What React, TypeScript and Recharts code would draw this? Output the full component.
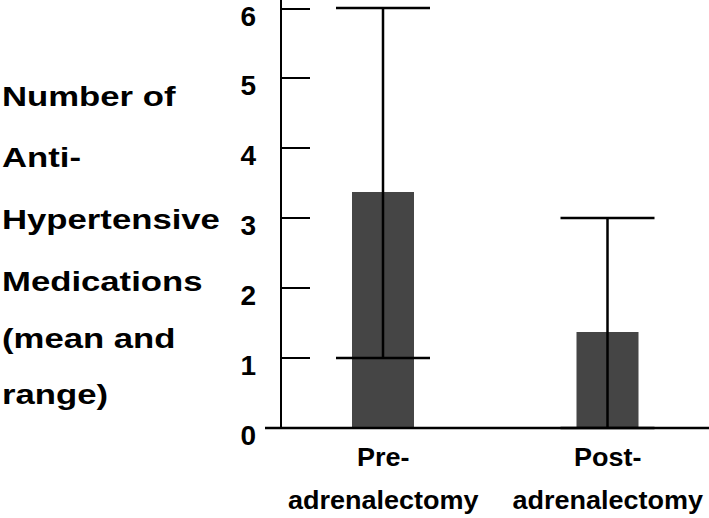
import React from 'react';
import { BarChart, Bar, XAxis, YAxis, ErrorBar } from 'recharts';

const GROUP_TOP: string[] = ['Pre-', 'Post-'];
const GROUP_BOTTOM: string[] = ['adrenalectomy', 'adrenalectomy'];
const MEANS: number[] = [3.37, 1.37];
const RANGE_MIN: number[] = [1, 0];
const RANGE_MAX: number[] = [6, 3];
const Y_TICKS: number[] = [0, 1, 2, 3, 4, 5, 6];
const Y_TITLE: string[] = ['Number of', 'Anti-', 'Hypertensive', 'Medications', '(mean and', 'range)'];

const FONT = '"Liberation Sans", Arial, sans-serif';

const data = GROUP_TOP.map((top, i) => ({
  name: `${top}${GROUP_BOTTOM[i]}`,
  top,
  bottom: GROUP_BOTTOM[i],
  mean: MEANS[i],
  range: [MEANS[i] - RANGE_MIN[i], RANGE_MAX[i] - MEANS[i]],
}));

const TICK_MARGIN = 25;

// labels sit left of the axis, tick marks point inward;
// the zero tick draws the full baseline (it pokes out left of the y axis)
const YTick = (props: any) => {
  const { x, y, payload } = props;
  const axisX = x + TICK_MARGIN;
  return (
    <g>
      <text x={x} y={y + 17} textAnchor="end" fontFamily={FONT} fontWeight="bold" fontSize={28} fill="#000">
        {payload.value}
      </text>
      {payload.value === 0 ? (
        <line x1={axisX - 16} y1={y} x2={709} y2={y} stroke="#000" strokeWidth={2.5} />
      ) : (
        <line x1={axisX} y1={y} x2={axisX + 29} y2={y} stroke="#000" strokeWidth={2} />
      )}
    </g>
  );
};

const XTick = (props: any) => {
  const { x, y, index } = props;
  const row = data[index];
  return (
    <g fontFamily={FONT} fontWeight="bold" fill="#000" textAnchor="middle">
      <text transform={`translate(${x},${y + 38}) scale(1.08,1)`} fontSize={25}>
        {row.top}
      </text>
      <text transform={`translate(${x},${y + 81}) scale(1.08,1)`} fontSize={25}>
        {row.bottom}
      </text>
    </g>
  );
};

const TITLE_BASELINES = [106, 167, 229, 291, 348, 404];

const YTitle = () => (
  <g fontFamily={FONT} fontWeight="bold" fill="#000">
    {Y_TITLE.map((line, i) => (
      <text key={line} transform={`translate(2,${TITLE_BASELINES[i]}) scale(1.24,1)`} fontSize={28}>
        {line}
      </text>
    ))}
  </g>
);

export default function App() {
  return (
    <div style={{ position: 'absolute', left: 0, top: 0, width: 709, height: 518, background: '#fff' }}>
      <BarChart width={709} height={518} data={data} margin={{ top: 0, right: 0, bottom: 0, left: 0 }}>
        <XAxis
          dataKey="name"
          height={90}
          padding={{ left: -10, right: -11 }}
          axisLine={false}
          tickLine={false}
          tickSize={0}
          tickMargin={0}
          tick={<XTick />}
          interval={0}
        />
        <YAxis
          width={281}
          domain={[0, 6.114]}
          ticks={Y_TICKS}
          allowDataOverflow
          axisLine={{ stroke: '#000', strokeWidth: 2 }}
          tickLine={false}
          tickSize={0}
          tickMargin={TICK_MARGIN}
          tick={<YTick />}
          label={<YTitle />}
        />
        <Bar dataKey="mean" fill="#454545" barSize={62} isAnimationActive={false}>
          <ErrorBar dataKey="range" width={47} stroke="#000" strokeWidth={2.5} isAnimationActive={false} />
        </Bar>
      </BarChart>
    </div>
  );
}
